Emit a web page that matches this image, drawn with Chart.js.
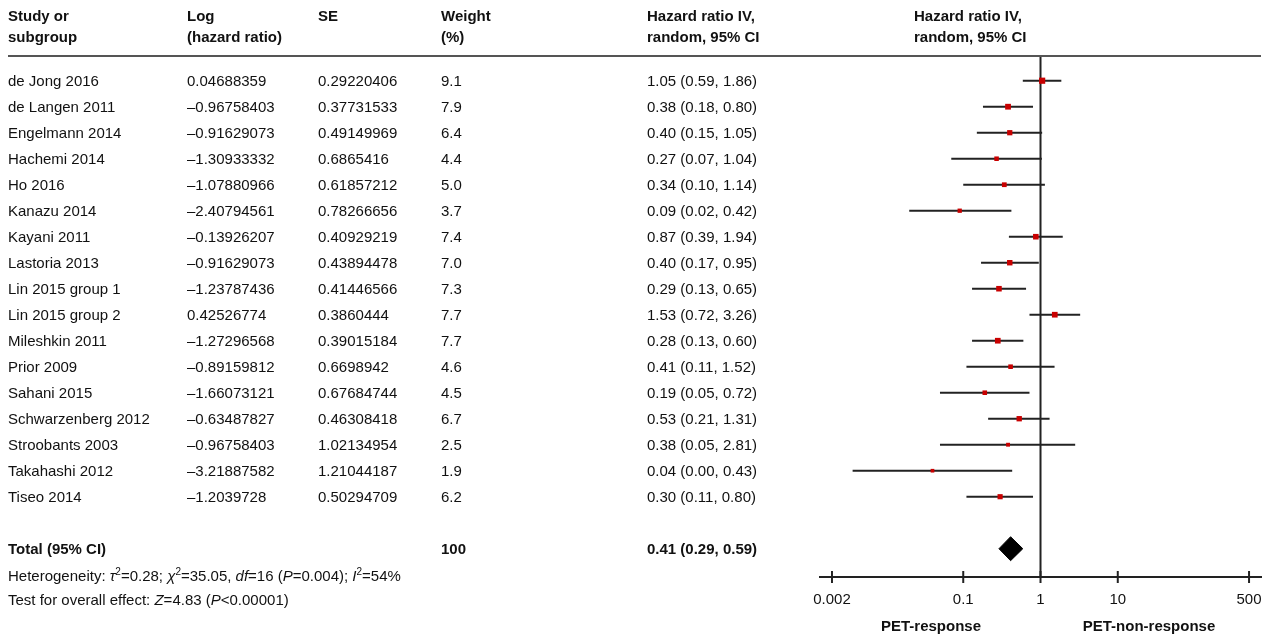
<!DOCTYPE html>
<html>
<head>
<meta charset="utf-8">
<title>Forest plot - PET response</title>
<script src="https://cdn.jsdelivr.net/npm/chart.js@4.4.1/dist/chart.umd.min.js"></script>
<style>
  html, body { margin: 0; padding: 0; background: #fff; }
  #wrap { width: 1270px; height: 639px; }
</style>
</head>
<body>
<div id="wrap"><canvas id="forest" width="1270" height="639"></canvas></div>
<script>
// Forest plot drawn with chart.js, table columns drawn by a small plugin

const studies = ['de Jong 2016', 'de Langen 2011', 'Engelmann 2014', 'Hachemi 2014', 'Ho 2016',
  'Kanazu 2014', 'Kayani 2011', 'Lastoria 2013', 'Lin 2015 group 1', 'Lin 2015 group 2',
  'Mileshkin 2011', 'Prior 2009', 'Sahani 2015', 'Schwarzenberg 2012', 'Stroobants 2003',
  'Takahashi 2012', 'Tiseo 2014']
const logHR = ['0.04688359', '–0.96758403', '–0.91629073', '–1.30933332', '–1.07880966',
  '–2.40794561', '–0.13926207', '–0.91629073', '–1.23787436', '0.42526774', '–1.27296568',
  '–0.89159812', '–1.66073121', '–0.63487827', '–0.96758403', '–3.21887582', '–1.2039728']
const se = ['0.29220406', '0.37731533', '0.49149969', '0.6865416', '0.61857212', '0.78266656',
  '0.40929219', '0.43894478', '0.41446566', '0.3860444', '0.39015184', '0.6698942',
  '0.67684744', '0.46308418', '1.02134954', '1.21044187', '0.50294709']
const weight = [9.1, 7.9, 6.4, 4.4, 5.0, 3.7, 7.4, 7.0, 7.3, 7.7, 7.7, 4.6, 4.5, 6.7, 2.5, 1.9, 6.2]
const hr     = [1.05, 0.38, 0.40, 0.27, 0.34, 0.09, 0.87, 0.40, 0.29, 1.53, 0.28, 0.41, 0.19, 0.53, 0.38, 0.04, 0.30]
const ciLow  = [0.59, 0.18, 0.15, 0.07, 0.10, 0.02, 0.39, 0.17, 0.13, 0.72, 0.13, 0.11, 0.05, 0.21, 0.05, 0.0037, 0.11]
const ciHigh = [1.86, 0.80, 1.05, 1.04, 1.14, 0.42, 1.94, 0.95, 0.65, 3.26, 0.60, 1.52, 0.72, 1.31, 2.81, 0.43, 0.80]

const totalHR = 0.41
const totalLow = 0.29
const totalHigh = 0.59
const totalWeight = 100

const tickVals = [0.002, 0.1, 1, 10, 500]

const totalRow = 18          // one blank row after the last study
const yMin = -0.912
const yMax = 19.088

const FONT = '"Liberation Sans", Arial, Helvetica, sans-serif'
const INK = '#111'

const colX = [8, 187, 318, 441, 647]   // left edges of table columns

function fmt2(v) { return v.toFixed(2) }
function ciText(h, lo, hi) { return fmt2(h) + ' (' + fmt2(lo) + ', ' + fmt2(hi) + ')' }

// draw text pieces with italic / superscript parts
function drawRuns(ctx, x, y, runs) {
    runs.forEach(r => {
        const size = r.sup ? 10 : 15
        ctx.font = (r.it ? 'italic ' : '') + size + 'px ' + FONT
        ctx.fillText(r.t, x, r.sup ? y - 6 : y)
        x += ctx.measureText(r.t).width
    })
}

const tablePlugin = {
    id: 'forestTable',
    afterDraw(chart) {
        const ctx = chart.ctx
        const y = chart.scales.y
        ctx.save()
        ctx.fillStyle = INK
        ctx.textAlign = 'left'

        // header
        ctx.textBaseline = 'alphabetic'
        ctx.font = 'bold 15px ' + FONT
        const head1 = ['Study or', 'Log', 'SE', 'Weight', 'Hazard ratio IV,']
        const head2 = ['subgroup', '(hazard ratio)', '', '(%)', 'random, 95% CI']
        head1.forEach((t, i) => ctx.fillText(t, colX[i], 21))
        head2.forEach((t, i) => ctx.fillText(t, colX[i], 42))
        ctx.fillText('Hazard ratio IV,', 914, 21)
        ctx.fillText('random, 95% CI', 914, 42)

        ctx.strokeStyle = '#555'
        ctx.lineWidth = 2
        ctx.beginPath()
        ctx.moveTo(8, 56)
        ctx.lineTo(1261, 56)
        ctx.stroke()

        // study rows
        ctx.textBaseline = 'middle'
        ctx.font = '15px ' + FONT
        studies.forEach((s, i) => {
            const py = y.getPixelForValue(i) + 1.5
            ctx.fillText(s, colX[0], py)
            ctx.fillText(logHR[i], colX[1], py)
            ctx.fillText(se[i], colX[2], py)
            ctx.fillText(weight[i].toFixed(1), colX[3], py)
            ctx.fillText(ciText(hr[i], ciLow[i], ciHigh[i]), colX[4], py)
        })

        // total row
        const ty = y.getPixelForValue(totalRow) + 1.5
        ctx.font = 'bold 15px ' + FONT
        ctx.fillText('Total (95% CI)', colX[0], ty)
        ctx.fillText(String(totalWeight), colX[3], ty)
        ctx.fillText(ciText(totalHR, totalLow, totalHigh), colX[4], ty)

        ctx.textBaseline = 'alphabetic'
        drawRuns(ctx, colX[0], 581, [
            { t: 'Heterogeneity: ' }, { t: 'τ', it: 1 }, { t: '2', sup: 1 }, { t: '=0.28; ' },
            { t: 'χ', it: 1 }, { t: '2', sup: 1 }, { t: '=35.05, ' }, { t: 'df', it: 1 },
            { t: '=16 (' }, { t: 'P', it: 1 }, { t: '=0.004); ' }, { t: 'I', it: 1 },
            { t: '2', sup: 1 }, { t: '=54%' }
        ])
        drawRuns(ctx, colX[0], 605, [
            { t: 'Test for overall effect: ' }, { t: 'Z', it: 1 }, { t: '=4.83 (' },
            { t: 'P', it: 1 }, { t: '<0.00001)' }
        ])

        // favours labels under the axis
        ctx.textAlign = 'center'
        ctx.textBaseline = 'middle'
        ctx.font = 'bold 15px ' + FONT
        ctx.fillText('PET-response', 931, 627)
        ctx.fillText('PET-non-response', 1149, 627)
        ctx.restore()
    }
}

function createChart() {
    const ctx = document.getElementById('forest')

    const squares = {
        label: 'Hazard ratio',
        data: hr.map((v, i) => ({ x: v, y: i })),
        pointStyle: 'rect',
        pointRadius: weight.map(w => (3 + w * 0.35) / Math.SQRT2),
        backgroundColor: '#c80000',
        borderWidth: 0,
        order: 0
    }

    // pooled estimate diamond: upper edge filled down to the lower edge
    const diamondTop = {
        type: 'line',
        data: [{ x: totalLow, y: totalRow }, { x: totalHR, y: totalRow - 0.46 }, { x: totalHigh, y: totalRow }],
        borderColor: '#000',
        borderWidth: 1,
        backgroundColor: '#000',
        fill: '+1',
        pointRadius: 0,
        order: 1
    }
    const diamondBottom = {
        type: 'line',
        data: [{ x: totalLow, y: totalRow }, { x: totalHR, y: totalRow + 0.46 }, { x: totalHigh, y: totalRow }],
        borderColor: '#000',
        borderWidth: 1,
        fill: false,
        pointRadius: 0,
        order: 1
    }

    const ciLines = studies.map((s, i) => ({
        type: 'line',
        label: s,
        data: [{ x: ciLow[i], y: i }, { x: ciHigh[i], y: i }],
        borderColor: '#222',
        borderWidth: 2,
        pointRadius: 0,
        order: 2
    }))

    const refLine = {
        type: 'line',
        data: [{ x: 1, y: yMin }, { x: 1, y: yMax }],
        borderColor: '#222',
        borderWidth: 2,
        pointRadius: 0,
        order: 3
    }

    // tick marks crossing the axis line
    const axisTicks = {
        data: tickVals.map(v => ({ x: v, y: yMax })),
        pointStyle: 'line',
        rotation: 90,
        pointRadius: 6,
        borderColor: '#222',
        borderWidth: 2,
        clip: false,
        order: 4
    }

    new Chart(ctx, {
        type: 'scatter',
        data: { datasets: [squares, diamondTop, diamondBottom, ...ciLines, refLine, axisTicks] },
        options: {
            responsive: false,
            animation: false,
            events: [],
            layout: { padding: { left: 820, right: 9, top: 57, bottom: 0 } },
            scales: {
                x: {
                    type: 'logarithmic',
                    min: 0.0014,
                    max: 714,
                    afterBuildTicks: s => { s.ticks = tickVals.map(v => ({ value: v })) },
                    afterFit: s => {
                        s.height = 62
                        s.paddingLeft = 0     // keep the plot width fixed
                        s.paddingRight = 0
                    },
                    grid: { drawOnChartArea: false, drawTicks: false },
                    border: { color: '#222', width: 2 },
                    ticks: {
                        autoSkip: false,
                        maxRotation: 0,
                        padding: 14,
                        color: INK,
                        font: { family: FONT, size: 15 },
                        callback: v => String(v)
                    }
                },
                y: {
                    type: 'linear',
                    reverse: true,
                    min: yMin,
                    max: yMax,
                    display: false
                }
            },
            plugins: {
                legend: { display: false },
                tooltip: { enabled: false }
            }
        },
        plugins: [tablePlugin]
    })
}

createChart()
</script>
</body>
</html>
